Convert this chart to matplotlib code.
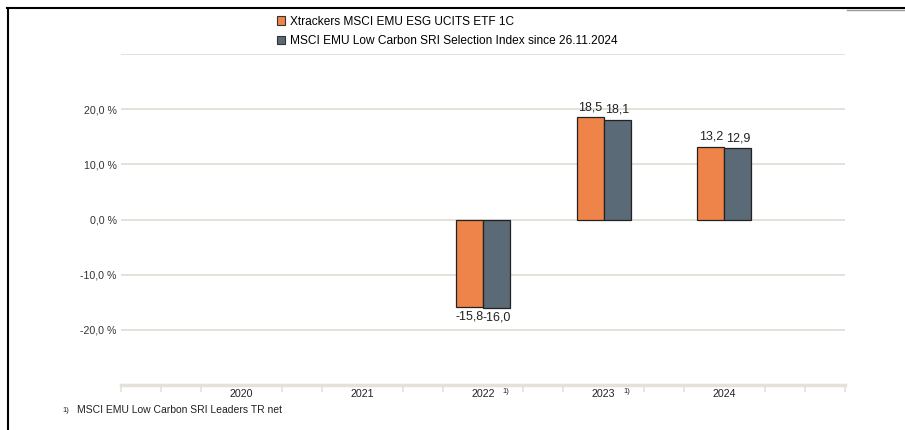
import matplotlib.pyplot as plt
import numpy as np
from matplotlib.lines import Line2D
from matplotlib.patches import Patch

plt.rcParams['font.family'] = ['Liberation Sans', 'DejaVu Sans']

years = ['2020', '2021', '2022', '2023', '2024']
footnoted = ['', '', '1)', '1)', '']
fund = [np.nan, np.nan, -15.8, 18.5, 13.2]
index = [np.nan, np.nan, -16.0, 18.1, 12.9]
fund_name = 'Xtrackers MSCI EMU ESG UCITS ETF 1C'
index_name = 'MSCI EMU Low Carbon SRI Selection Index since 26.11.2024'
footnote = 'MSCI EMU Low Carbon SRI Leaders TR net'

orange = '#ee8449'
slate = '#5b6a77'
grid_c = '#e4e1da'

fig = plt.figure(figsize=(9.05, 4.3), dpi=100)
ax = fig.add_axes([121 / 905, 1 - 385 / 430, 724 / 905, 331 / 430])

x = np.arange(1, len(years) + 1)
w = 0.224
b1 = ax.bar(x - w / 2, fund, w, color=orange, edgecolor='#222222', linewidth=0.9, zorder=3)
b2 = ax.bar(x + w / 2, index, w, color=slate, edgecolor='#222222', linewidth=0.9, zorder=3)

for bars, vals in ((b1, fund), (b2, index)):
    for bar, v in zip(bars, vals):
        if np.isnan(v):
            continue
        lbl = f'{v:.1f}'.replace('.', ',')
        va = 'bottom' if v >= 0 else 'top'
        off = 3 if v >= 0 else -3
        ax.annotate(lbl, (bar.get_x() + bar.get_width() / 2, v), xytext=(0, off),
                    textcoords='offset points', ha='center', va=va,
                    fontsize=9, color='#222222')

ax.set_xlim(0, 6)
ax.set_ylim(-30, 30)
yt = [-20, -10, 0, 10, 20]
ax.set_yticks(yt)
ax.set_yticklabels([f'{v:.1f}'.replace('.', ',') + ' %' for v in yt], fontsize=7.7, color='#333333')
for g in [-20, -10, 0, 10, 20, 30]:
    ax.axhline(g, color=grid_c, lw=1.4, zorder=1)
ax.tick_params(axis='y', length=0, pad=3)

ax.set_xticks(x)
ax.set_xticklabels(years, fontsize=7.7, color='#222222')
ax.tick_params(axis='x', length=0, pad=3)
minor = [k / 3 for k in range(19) if k % 3 != 0 or k in (0, 18)]
ax.set_xticks(minor, minor=True)
ax.tick_params(axis='x', which='minor', length=5, width=1.2, color=grid_c, direction='out')
for xi, fn in zip(x, footnoted):
    if fn:
        ax.annotate(fn, (xi, 0), xycoords=('data', 'axes fraction'), xytext=(14, -2.5),
                    textcoords='offset points', fontsize=5.5, color='#222222', va='top')

for s in ['top', 'right', 'left']:
    ax.spines[s].set_visible(False)
ax.spines['bottom'].set_color(grid_c)
ax.spines['bottom'].set_linewidth(2.5)

handles = [Patch(facecolor=orange, edgecolor='#333333', linewidth=0.8),
           Patch(facecolor=slate, edgecolor='#333333', linewidth=0.8)]
fig.legend(handles, [fund_name, index_name], loc='upper left',
           bbox_to_anchor=(266 / 905, 1 - 5 / 430), frameon=False, fontsize=8.6,
           handlelength=0.7, handleheight=0.7, handletextpad=0.4, labelspacing=0.62)

fig.text(62 / 905, 1 - 410 / 430, '1)', fontsize=5.5, color='#222222', va='center')
fig.text(77 / 905, 1 - 410 / 430, footnote, fontsize=7.5, color='#222222', va='center')

# frame lines of the original screenshot
fig.add_artist(Line2D([7 / 905, 1], [1 - 8 / 430] * 2, color='black', lw=1.5))
fig.add_artist(Line2D([8 / 905] * 2, [1 - 8 / 430, 0], color='black', lw=1.5))
fig.add_artist(Line2D([847 / 905, 1], [1 - 10 / 430] * 2, color='#999999', lw=1))

fig.savefig('out.png', dpi=100)
